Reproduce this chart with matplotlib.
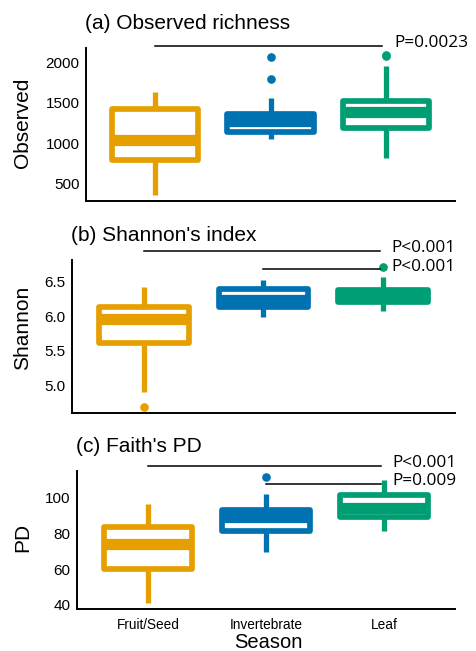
import matplotlib
matplotlib.use("Agg")
import matplotlib.pyplot as plt

plt.rcParams['font.family'] = ['Liberation Sans', 'DejaVu Sans']

# ---- data ----
cats = ['Fruit/Seed', 'Invertebrate', 'Leaf']
cols = ['#E69F00', '#0072B2', '#009E73']

obs_lo = [359, 1053, 821]
obs_q1 = [799, 1146, 1196]
obs_med = [1041, 1275, 1392]
obs_q3 = [1428, 1366, 1522]
obs_hi = [1636, 1558, 1962]
obs_out = [[], [2066, 1794], [2082, 2096]]

shan_lo = [4.90, 5.994, 6.08]
shan_q1 = [5.614, 6.143, 6.205]
shan_med = [5.965, 6.237, 6.29]
shan_q3 = [6.133, 6.405, 6.38]
shan_hi = [6.42, 6.528, 6.576]
shan_out = [[4.684], [], [6.722]]

pd_lo = [41.2, 69.4, 81.3]
pd_q1 = [60.1, 81.2, 89.0]
pd_med = [73.9, 89.0, 94.0]
pd_q3 = [83.4, 92.8, 101.3]
pd_hi = [96.4, 102.0, 109.8]
pd_out = [[], [111.3], []]

# (from, to, y, label)
sig_a = [(1, 3, 2210, 'P=0.0023')]
sig_b = [(1, 3, 6.95, 'P<0.001'), (2, 3, 6.684, 'P<0.001')]
sig_c = [(1, 3, 117.8, 'P<0.001'), (2, 3, 107.6, 'P=0.009')]

W, H = 477., 651.
fig = plt.figure(figsize=(W/100, H/100), dpi=100)

def px_axes(x0, x1, ytop, ybot):
    return fig.add_axes([x0/W, 1-ybot/H, (x1-x0)/W, (ybot-ytop)/H])

def panel(ax, lo, q1, med, q3, hi, out, ylim, yticks, title, ylab, ylab_y, sig):
    stats = []
    for i in range(3):
        stats.append(dict(whislo=lo[i], q1=q1[i], med=med[i], q3=q3[i],
                          whishi=hi[i], fliers=out[i], label=cats[i]))
    bp = ax.bxp(stats, positions=[1, 2, 3], widths=0.75, patch_artist=True,
                showcaps=False)
    for i in range(3):
        c = cols[i]
        b = bp['boxes'][i]
        b.set_facecolor('white'); b.set_edgecolor(c); b.set_linewidth(4.1)
        b.set_joinstyle('round')
        m = bp['medians'][i]
        m.set_color(c); m.set_linewidth(8.1); m.set_solid_capstyle('butt')
        for w in bp['whiskers'][2*i:2*i+2]:
            w.set_color(c); w.set_linewidth(3.8); w.set_solid_capstyle('butt')
            w.set_zorder(1)
        f = bp['fliers'][i]
        f.set_marker('o'); f.set_markerfacecolor(c); f.set_markeredgecolor(c)
        f.set_markersize(5.2)
    ax.set_xlim(0.4, 3.6)
    ax.set_ylim(*ylim)
    ax.set_yticks(yticks)
    ax.tick_params(length=0, labelsize=11, pad=4.5)
    for s in ['top', 'right']:
        ax.spines[s].set_visible(False)
    for s in ['left', 'bottom']:
        ax.spines[s].set_linewidth(1.4)
    ax.annotate(title, xy=(0, 1), xycoords='axes fraction', xytext=(-1, 13.7),
                textcoords='offset points', fontsize=15, ha='left', va='baseline')
    fig.text(23/W, 1-ylab_y/H, ylab, rotation=90, fontsize=15, ha='center', va='center')
    for a, b2, y, lab in sig:
        ax.plot([a, b2-0.03], [y, y], color='black', lw=1.1, clip_on=False)
        ax.annotate(lab, xy=(b2+0.07, y), xytext=(0, 2), textcoords='offset points',
                    fontsize=12.4, family=['Open Sans', 'DejaVu Sans'],
                    ha='left', va='center', annotation_clip=False)

ax1 = px_axes(86, 455, 48.3, 201)
panel(ax1, obs_lo, obs_q1, obs_med, obs_q3, obs_hi, obs_out, (285, 2178),
      [500, 1000, 1500, 2000], '(a) Observed richness', 'Observed', 122.5, sig_a)
ax1.set_xticks([])

ax2 = px_axes(72, 455, 260, 412.7)
panel(ax2, shan_lo, shan_q1, shan_med, shan_q3, shan_hi, shan_out, (4.597, 6.82),
      [5.0, 5.5, 6.0, 6.5], "(b) Shannon's index", 'Shannon', 328.3, sig_b)
ax2.set_xticks([])

ax3 = px_axes(77, 455, 470.7, 609.3)
panel(ax3, pd_lo, pd_q1, pd_med, pd_q3, pd_hi, pd_out, (37.5, 115.0),
      [40, 60, 80, 100], "(c) Faith's PD", 'PD', 537.5, sig_c)
ax3.set_xticks([1, 2, 3])
ax3.set_xticklabels(cats)
ax3.tick_params(axis='x', labelsize=9.8, pad=6)
fig.text(268/W, 1-642/H, 'Season', fontsize=14.5, ha='center', va='center')

fig.savefig('out.png', dpi=100)
